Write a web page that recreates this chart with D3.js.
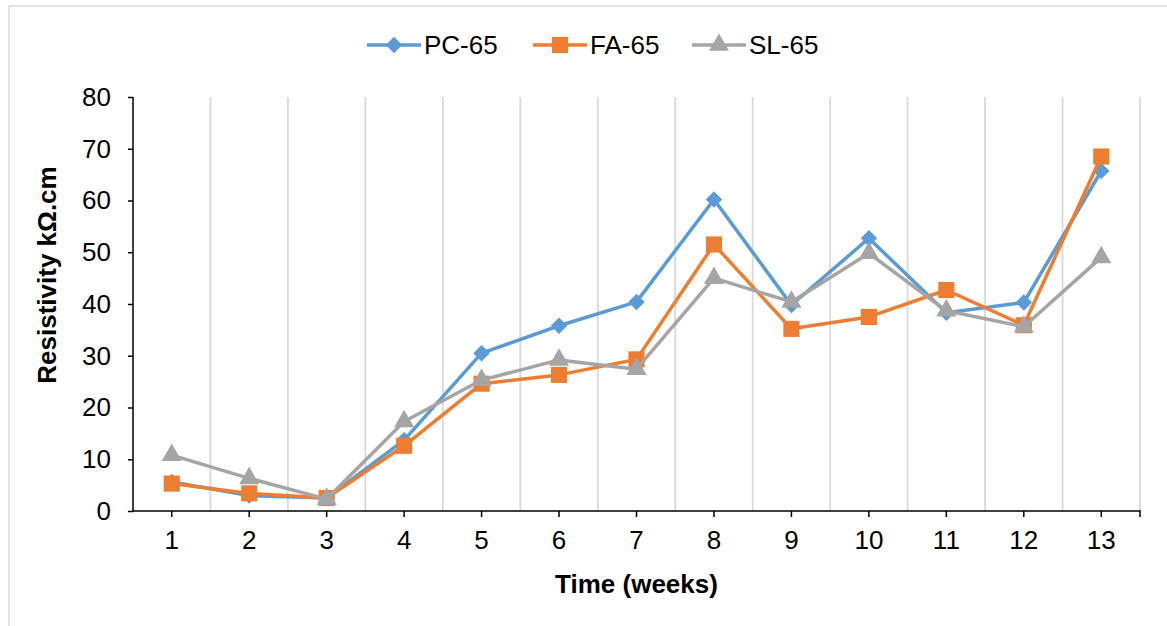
<!DOCTYPE html>
<html>
<head>
<meta charset="utf-8">
<script src="https://cdn.jsdelivr.net/npm/d3@7"></script>
<style>
  html, body { margin: 0; padding: 0; background: #fff; }
  svg text { font-family: "Liberation Sans", Arial, sans-serif; fill: #000; }
</style>
</head>
<body>
<svg id="chart" width="1167" height="626"></svg>
<script>
// Resistivity over time for three concrete mixes
const weeks = ["1","2","3","4","5","6","7","8","9","10","11","12","13"];
const pc65 = [5.6, 3.0, 2.5, 13.7, 30.5, 35.8, 40.4, 60.2, 39.8, 52.7, 38.3, 40.3, 65.7];
const fa65 = [5.3, 3.4, 2.5, 12.6, 24.6, 26.3, 29.3, 51.5, 35.2, 37.5, 42.7, 35.9, 68.5];
const sl65 = [10.8, 6.3, 2.3, 17.3, 25.3, 29.2, 27.4, 45.0, 40.4, 49.8, 38.7, 35.6, 49.0];
const yTicks = [0, 10, 20, 30, 40, 50, 60, 70, 80];

// diamonds are squares turned by 45 degrees
const series = [
  { name: "PC-65", values: pc65, color: "#5B9BD5", symbol: d3.symbolSquare, size: 135, rot: 45 },
  { name: "FA-65", values: fa65, color: "#ED7D31", symbol: d3.symbolSquare, size: 260, rot: 0 },
  { name: "SL-65", values: sl65, color: "#A5A5A5", symbol: d3.symbolTriangle, size: 175, rot: 0 }
];

const svg = d3.select("#chart");
const plotLeft = 133, plotRight = 1140, plotTop = 97, plotBottom = 511;
const fontSize = 26;

// outer chart border
svg.append("rect")
  .attr("x", 9).attr("y", 6)
  .attr("width", 1200).attr("height", 700)
  .attr("fill", "none").attr("stroke", "#d9d9d9").attr("stroke-width", 1.5);

const x = d3.scaleBand().domain(weeks).range([plotLeft, plotRight]).padding(0);
const y = d3.scaleLinear().domain([0, 80]).range([plotBottom, plotTop]);

// vertical gridlines between weeks
const bounds = weeks.map(w => x(w) + x.bandwidth());
svg.append("g").selectAll("line").data(bounds).join("line")
  .attr("x1", d => d).attr("x2", d => d)
  .attr("y1", plotTop).attr("y2", plotBottom)
  .attr("stroke", "#d9d9d9").attr("stroke-width", 1.8);

// y axis
const yAxis = svg.append("g").attr("transform", `translate(${plotLeft},0)`)
  .call(d3.axisLeft(y).tickValues(yTicks).tickSize(5).tickPadding(17));
yAxis.select(".domain").attr("stroke", "#000").attr("stroke-width", 1.5)
  .attr("d", `M0,${plotTop}H0V${plotBottom}`);
yAxis.selectAll(".tick line").attr("stroke", "#000").attr("stroke-width", 1.5);
yAxis.selectAll(".tick text").attr("font-size", fontSize).attr("font-family", "Liberation Sans, Arial, sans-serif");

// x axis with ticks at week centres
const xAxis = svg.append("g").attr("transform", `translate(0,${plotBottom})`)
  .call(d3.axisBottom(x).tickSize(6).tickPadding(14));
xAxis.select(".domain").attr("stroke", "#000").attr("stroke-width", 1.5)
  .attr("d", `M${plotLeft},0H${plotRight}V6`);
xAxis.selectAll(".tick line").attr("stroke", "#000").attr("stroke-width", 1.5);
xAxis.selectAll(".tick text").attr("font-size", fontSize).attr("font-family", "Liberation Sans, Arial, sans-serif");

// axis titles
svg.append("text")
  .attr("x", (plotLeft + plotRight) / 2).attr("y", 593)
  .attr("text-anchor", "middle").attr("font-size", fontSize).attr("font-weight", "bold")
  .text("Time (weeks)");
svg.append("text")
  .attr("transform", `translate(56,${(plotTop + plotBottom) / 2 - 29}) rotate(-90)`)
  .attr("text-anchor", "middle").attr("font-size", fontSize).attr("font-weight", "bold")
  .text("Resistivity kΩ.cm");

// series lines and markers
const cx = w => x(w) + x.bandwidth() / 2;
const line = d3.line().x((d, i) => cx(weeks[i])).y(d => y(d));

series.forEach(s => {
  const g = svg.append("g");
  g.append("path").datum(s.values)
    .attr("d", line).attr("fill", "none")
    .attr("stroke", s.color).attr("stroke-width", 3.5).attr("stroke-linejoin", "round");
  g.selectAll("path.m").data(s.values).join("path").attr("class", "m")
    .attr("transform", (d, i) => `translate(${cx(weeks[i])},${y(d)}) rotate(${s.rot})`)
    .attr("d", d3.symbol().type(s.symbol).size(s.size))
    .attr("fill", s.color);
});

// legend
const legendX = [367, 533, 692];
series.forEach((s, i) => {
  const g = svg.append("g").attr("transform", `translate(${legendX[i]},45)`);
  g.append("line").attr("x1", 0).attr("x2", 54).attr("y1", 0).attr("y2", 0)
    .attr("stroke", s.color).attr("stroke-width", 3.5);
  g.append("path").attr("transform", `translate(27,0) rotate(${s.rot})`)
    .attr("d", d3.symbol().type(s.symbol).size(s.size)).attr("fill", s.color);
  g.append("text").attr("x", 57).attr("y", 9).attr("font-size", fontSize).text(s.name);
});
</script>
</body>
</html>
